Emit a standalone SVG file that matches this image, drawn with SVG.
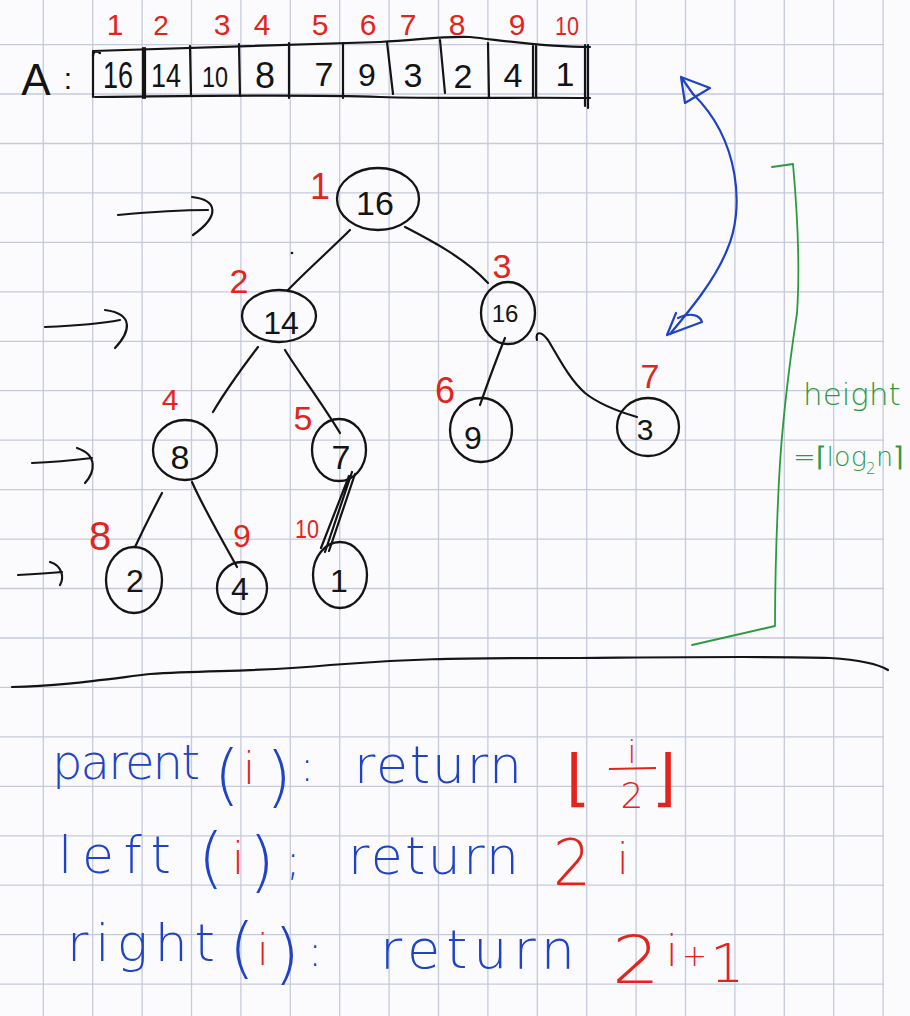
<svg xmlns="http://www.w3.org/2000/svg" width="910" height="1016" viewBox="0 0 910 1016">
<defs>
<style>
.bg{fill:#fbfbfe}
.grid{stroke:#c6cadb;stroke-width:1.3;fill:none}
.ink{stroke:#141414;stroke-width:2.2;fill:none;stroke-linecap:round;stroke-linejoin:round}
.node{stroke:#141414;stroke-width:2.3;fill:none}
.lbl{font-family:"Liberation Sans","DejaVu Sans",sans-serif;fill:#141414;text-anchor:middle}
.idx{font-family:"Liberation Sans","DejaVu Sans",sans-serif;fill:#e3241c;text-anchor:middle}
.blue{stroke:#1f42c6;stroke-width:2.2;fill:none;stroke-linecap:round;stroke-linejoin:round}
.green{stroke:#2c9b3e;stroke-width:1.8;fill:none;stroke-linecap:round;stroke-linejoin:round}
.gtx{font-family:"DejaVu Sans","Liberation Sans",sans-serif;font-weight:200;fill:#2c9b3e}
.f{font-family:"DejaVu Sans","Liberation Sans",sans-serif;font-weight:200;fill:#1f42c6}
.r{font-family:"DejaVu Sans","Liberation Sans",sans-serif;font-weight:200;fill:#e3241c}
</style>
</defs>
<rect class="bg" x="0" y="0" width="910" height="1016"/>
<g id="grid" class="grid">
<path d="M0,44.6H884M0,94H884M0,143.5H884M0,192.9H884M0,242.4H884M0,291.8H884M0,341.3H884M0,390.7H884M0,440.2H884M0,489.6H884M0,539.1H884M0,588.5H884M0,638H884M0,687.4H884M0,736.9H884M0,786.3H884M0,835.8H884M0,885.2H884M0,934.7H884M0,984.1H884"/>
<path d="M43.3,0V1016M92.7,0V1016M142.1,0V1016M191.5,0V1016M240.9,0V1016M290.3,0V1016M339.7,0V1016M389.1,0V1016M438.5,0V1016M487.9,0V1016M537.3,0V1016M586.7,0V1016M636.1,0V1016M685.5,0V1016M734.9,0V1016M784.3,0V1016M833.7,0V1016M883.1,0V1016"/>
</g>

<g id="array">
<text class="lbl" x="36" y="95" font-size="44">A</text>
<text class="lbl" x="68" y="89" font-size="30">:</text>
<path class="ink" d="M100,53 C96,50 93,52 93,56 M93,51 C200,48 300,45 380,42 C420,40 440,36 470,37 C500,40 540,47 590,47"/>
<path class="ink" d="M95,97 C200,96 300,94 380,97 C450,99 520,97 590,98"/>
<path class="ink" d="M93,52 L93,97 M143,48 L143,98 M145,48 L145,98 M190,46 L191,96 M239,44 L240,96 M289,43 L289,98 M343,43 L343,98 M387,42 L393,94 M440,40 L445,93 M488,43 L489,98 M533,46 L533,97 M536,46 L536,97 M585,45 L585,106 M588,45 L588,108"/>
<text class="lbl" x="118" y="88" font-size="36" textLength="30" lengthAdjust="spacingAndGlyphs">16</text>
<text class="lbl" x="166" y="87" font-size="34" textLength="30" lengthAdjust="spacingAndGlyphs">14</text>
<text class="lbl" x="215" y="87" font-size="30" textLength="26" lengthAdjust="spacingAndGlyphs">10</text>
<text class="lbl" x="265" y="88" font-size="36">8</text>
<text class="lbl" x="324" y="86" font-size="34">7</text>
<text class="lbl" x="367" y="86" font-size="32">9</text>
<text class="lbl" x="413" y="87" font-size="34">3</text>
<text class="lbl" x="463" y="88" font-size="34">2</text>
<text class="lbl" x="513" y="87" font-size="34">4</text>
<text class="lbl" x="565" y="86" font-size="34">1</text>
<text class="idx" x="115" y="35" font-size="30">1</text>
<text class="idx" x="161" y="35" font-size="28">2</text>
<text class="idx" x="222" y="35" font-size="30">3</text>
<text class="idx" x="262" y="35" font-size="30">4</text>
<text class="idx" x="320" y="35" font-size="30">5</text>
<text class="idx" x="368" y="35" font-size="30">6</text>
<text class="idx" x="408" y="35" font-size="30">7</text>
<text class="idx" x="457" y="35" font-size="30">8</text>
<text class="idx" x="517" y="35" font-size="30">9</text>
<text class="idx" x="567" y="35" font-size="26" textLength="24" lengthAdjust="spacingAndGlyphs">10</text>
</g>

<g id="connectors" class="ink">
<path d="M350,230 C330,250 305,272 288,290"/>
<path d="M405,227 C430,240 465,258 488,283"/>
<path d="M258,347 C242,368 226,390 213,412"/>
<path d="M285,350 C297,370 320,400 340,433"/>
<path d="M135,547 C143,530 153,510 162,493"/>
<path d="M237,567 C222,540 202,505 192,482"/>
<path d="M325,552 L352,472 M329,551 L355,474 M321,548 L349,476"/>
<path d="M505,338 C496,360 487,385 480,405"/>
<path d="M537,340 C535,330 542,332 548,340 C560,360 570,380 585,393 C600,405 620,412 637,417"/>
</g>

<g id="level-arrows" class="ink">
<path d="M118,215 C150,212 180,210 208,210 M192,197 C218,200 220,216 193,235"/>
<path d="M45,327 C70,326 100,324 120,320 M105,310 C135,314 130,332 115,348"/>
<path d="M32,463 C55,462 75,460 92,458 M77,448 C98,455 95,472 85,483"/>
<path d="M18,575 C35,574 50,573 62,572 M50,562 C63,566 64,578 60,585"/>
<circle cx="292" cy="253" r="1.3" fill="#141414" stroke="none"/>
</g>

<g id="n1"><ellipse class="node" cx="378" cy="199" rx="41" ry="31"/><text class="lbl" x="375" y="215" font-size="34">16</text><text class="idx" x="320" y="199" font-size="36">1</text></g>
<g id="n2"><ellipse class="node" cx="279" cy="316" rx="37" ry="26"/><text class="lbl" x="281" y="334" font-size="32">14</text><text class="idx" x="239" y="293" font-size="34">2</text></g>
<g id="n3"><ellipse class="node" cx="508" cy="313" rx="27" ry="31"/><text class="lbl" x="505" y="322" font-size="24">16</text><text class="idx" x="502" y="278" font-size="34">3</text></g>
<g id="n4"><ellipse class="node" cx="185" cy="450" rx="32" ry="30"/><text class="lbl" x="180" y="469" font-size="34">8</text><text class="idx" x="170" y="410" font-size="30">4</text></g>
<g id="n5"><ellipse class="node" cx="339" cy="450" rx="27" ry="31"/><text class="lbl" x="341" y="469" font-size="34">7</text><text class="idx" x="303" y="430" font-size="34">5</text></g>
<g id="n6"><ellipse class="node" cx="481" cy="430" rx="31" ry="32"/><text class="lbl" x="473" y="449" font-size="32">9</text><text class="idx" x="445" y="403" font-size="36">6</text></g>
<g id="n7"><ellipse class="node" cx="648" cy="427" rx="31" ry="29"/><text class="lbl" x="645" y="440" font-size="30">3</text><text class="idx" x="650" y="388" font-size="34">7</text></g>
<g id="n8"><ellipse class="node" cx="134" cy="580" rx="28" ry="33"/><text class="lbl" x="135" y="592" font-size="32">2</text><text class="idx" x="100" y="550" font-size="40">8</text></g>
<g id="n9"><ellipse class="node" cx="242" cy="588" rx="25" ry="26"/><text class="lbl" x="240" y="600" font-size="32">4</text><text class="idx" x="242" y="547" font-size="32">9</text></g>
<g id="n10"><ellipse class="node" cx="340" cy="575" rx="27" ry="33"/><text class="lbl" x="339" y="592" font-size="32">1</text><text class="idx" x="307" y="538" font-size="26" textLength="24" lengthAdjust="spacingAndGlyphs">10</text></g>

<g id="swap-arrow" class="blue">
<path d="M693,94 C740,140 745,210 727,250 C715,280 690,310 670,334"/>
<path d="M681,77 L685,103 L710,88 Z M681,77 L693,94"/>
<path d="M667,335 L676,313 M667,335 L702,322 C700,315 690,312 678,318"/>
</g>

<g id="height">
<path class="green" d="M772,167 L793,164 C798,220 800,270 797,313 C790,360 782,420 779,480 C776,540 775,590 775,626 L692,645"/>
<text class="gtx" x="803" y="405" font-size="31">height</text>
<text class="gtx" x="793" y="466" font-size="27">=⌈log</text>
<text class="gtx" x="866" y="474" font-size="15">2</text>
<text class="gtx" x="876" y="466" font-size="27">n⌉</text>
</g>

<path id="divider" class="ink" d="M12,687 C60,686 100,680 150,674 C210,670 260,672 330,665 C400,659 450,658 580,658 C700,657 780,656 830,658 C860,660 880,665 888,670"/>

<g id="formulas">
<text class="f" x="52" y="779" font-size="48" textLength="148" lengthAdjust="spacing">parent</text>
<text class="f" x="214" y="797" font-size="66">(</text>
<text class="r" x="243" y="784" font-size="44">i</text>
<text class="f" x="266" y="799" font-size="66">)</text>
<text class="f" x="300" y="781" font-size="42">:</text>
<text class="f" x="354" y="783" font-size="52" textLength="168" lengthAdjust="spacing">return</text>
<text class="r" x="566" y="799" font-size="62">⌊</text>
<text class="r" x="632" y="763" font-size="32" text-anchor="middle">i</text>
<path d="M609,769 L656,768" stroke="#e3241c" stroke-width="2" fill="none"/>
<text class="r" x="632" y="808" font-size="36" text-anchor="middle">2</text>
<text class="r" x="652" y="799" font-size="62">⌋</text>

<text class="f" x="58" y="873" font-size="52" textLength="113" lengthAdjust="spacing">left</text>
<text class="f" x="198" y="880" font-size="66">(</text>
<text class="r" x="232" y="874" font-size="44">i</text>
<text class="f" x="249" y="884" font-size="66">)</text>
<text class="f" x="286" y="875" font-size="42">;</text>
<text class="f" x="348" y="874" font-size="52" textLength="171" lengthAdjust="spacing">return</text>
<text class="r" x="553" y="885" font-size="64" textLength="38" lengthAdjust="spacingAndGlyphs">2</text>
<text class="r" x="617" y="874" font-size="42">i</text>

<text class="f" x="67" y="961" font-size="52" textLength="148" lengthAdjust="spacing">right</text>
<text class="f" x="229" y="970" font-size="66">(</text>
<text class="r" x="257" y="965" font-size="42">i</text>
<text class="f" x="274" y="976" font-size="66">)</text>
<text class="f" x="308" y="966" font-size="42">:</text>
<text class="f" x="380" y="968" font-size="54" textLength="195" lengthAdjust="spacing">return</text>
<text class="r" x="612" y="983" font-size="66" textLength="48" lengthAdjust="spacingAndGlyphs">2</text>
<text class="r" x="666" y="966" font-size="42">i</text>
<text class="r" x="682" y="966" font-size="30">+</text>
<text class="r" x="710" y="982" font-size="54">1</text>
</g>
</svg>
